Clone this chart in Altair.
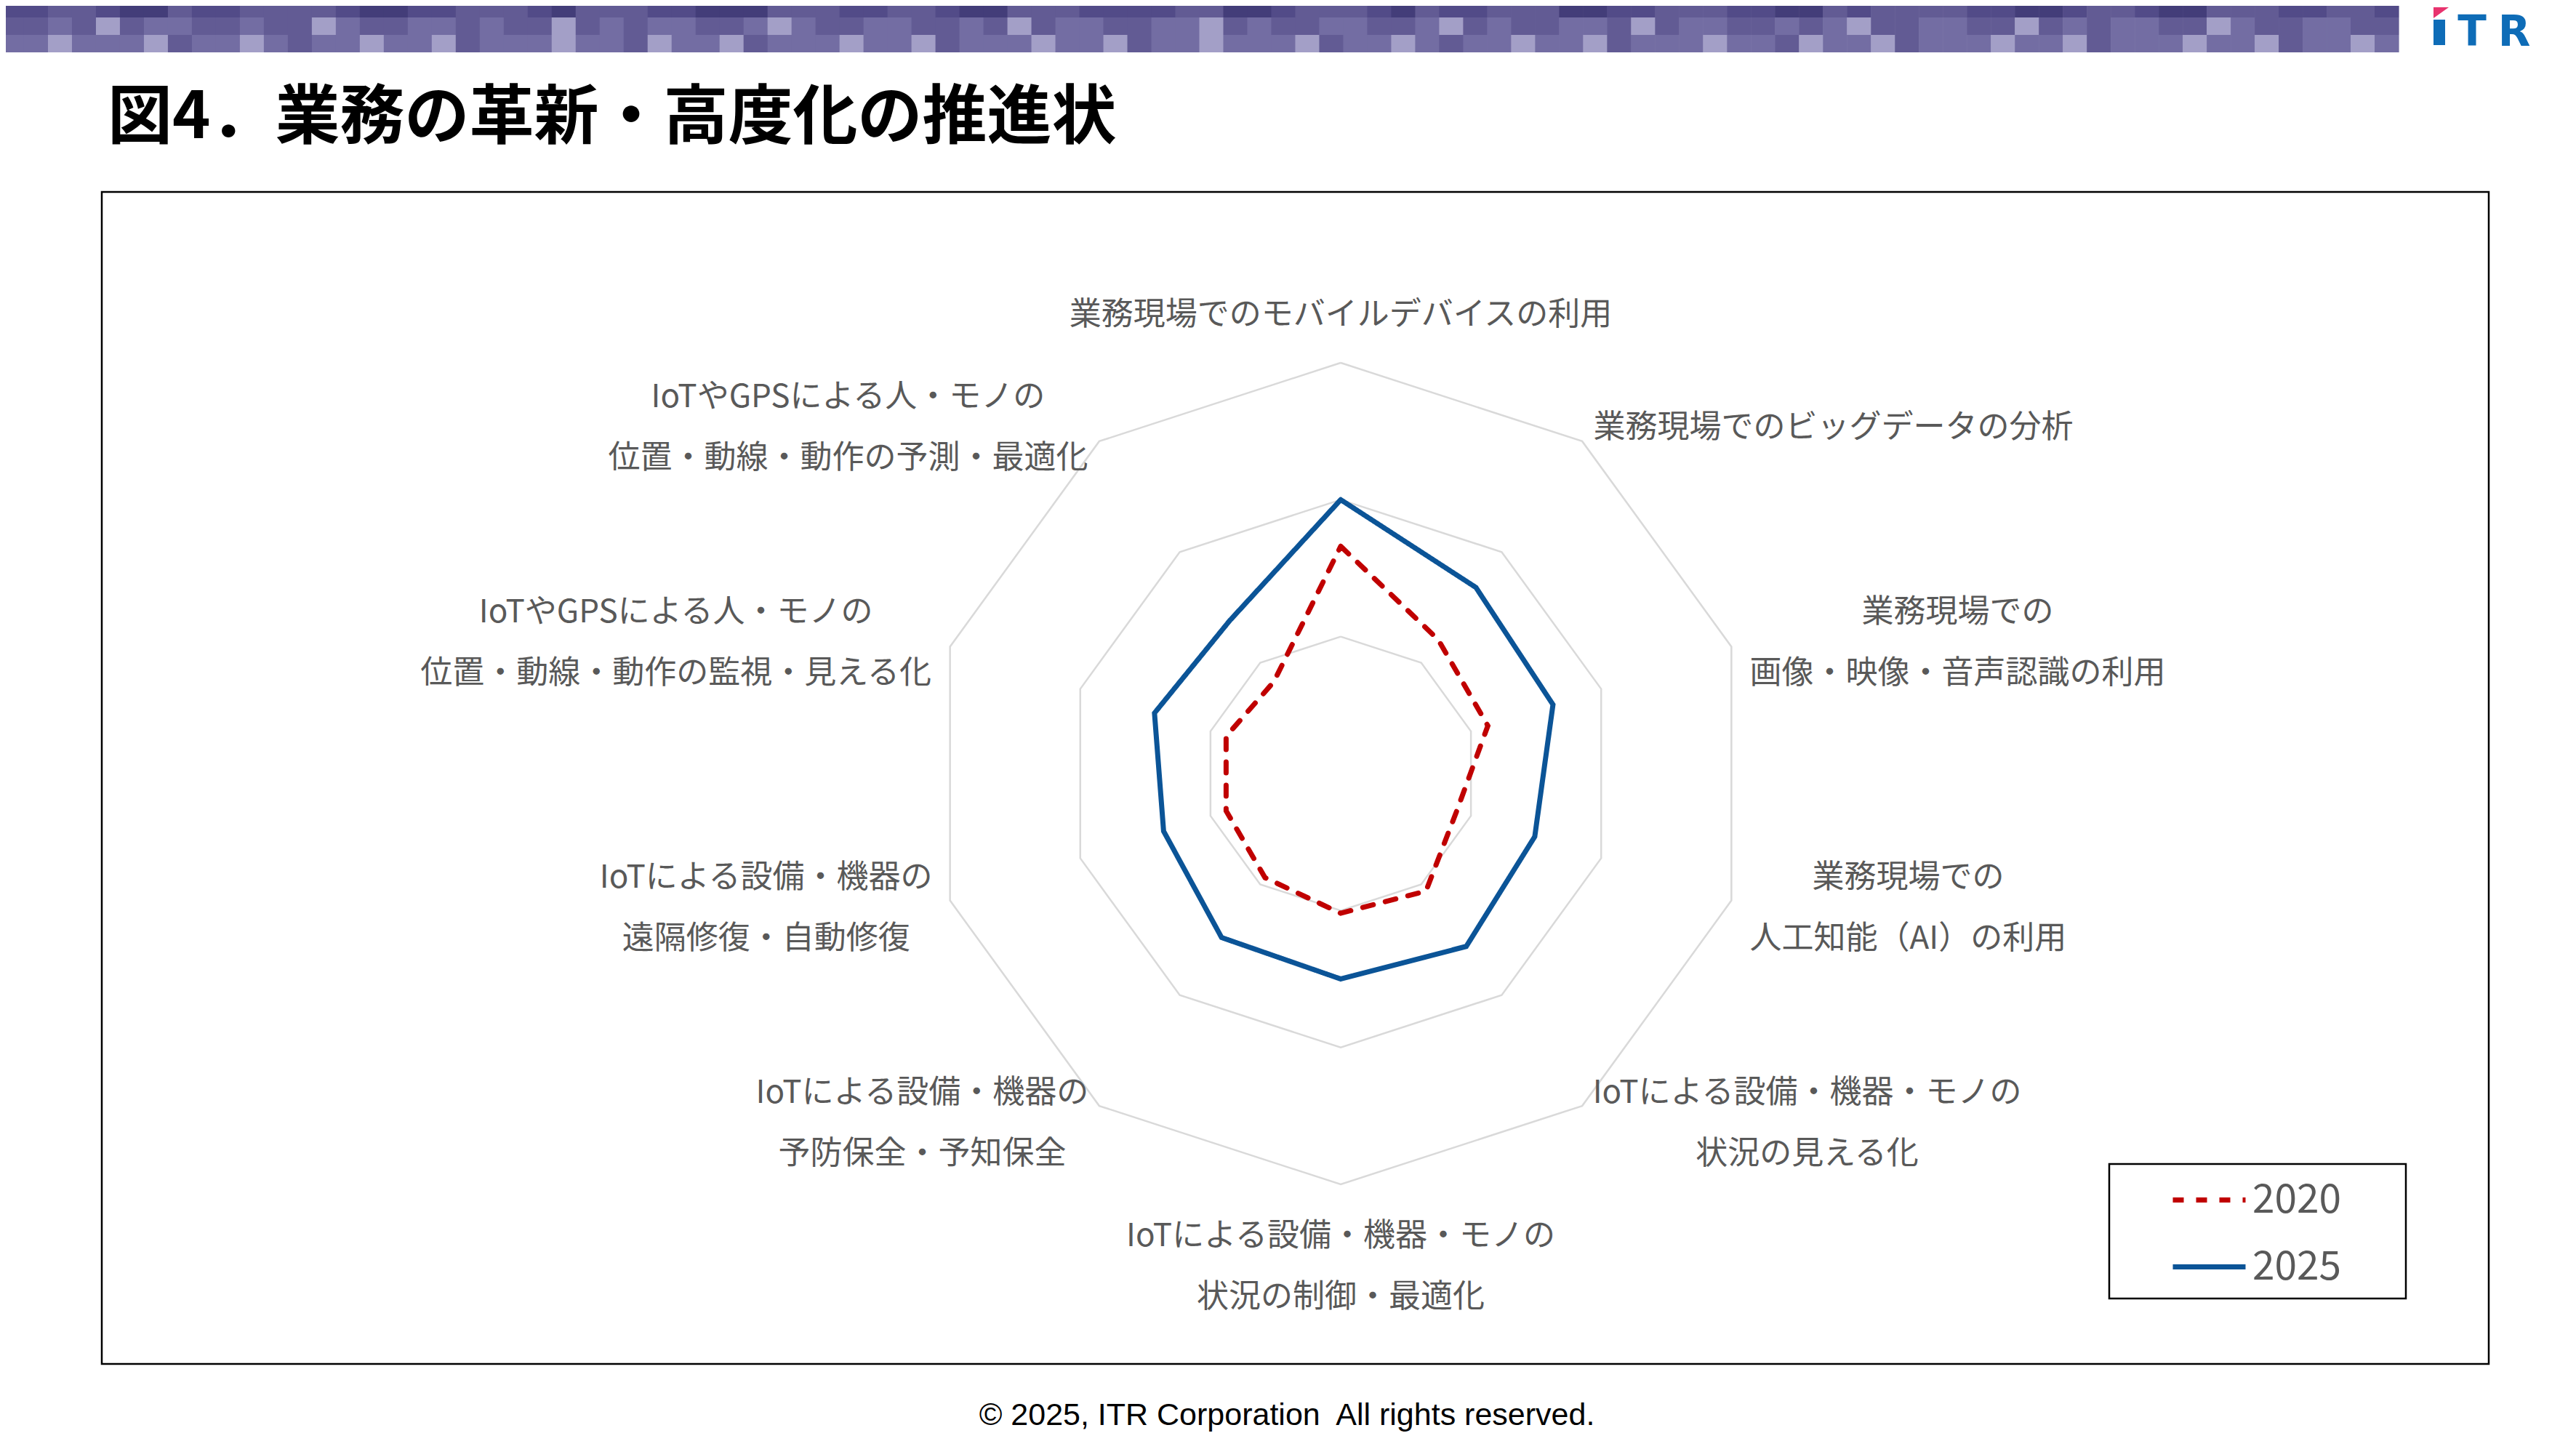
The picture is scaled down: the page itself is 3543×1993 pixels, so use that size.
import math
import altair as alt
import pandas as pd

# ---------------- data ----------------
categories = [
    "業務現場でのモバイルデバイスの利用",
    "業務現場でのビッグデータの分析",
    "業務現場での\n画像・映像・音声認識の利用",
    "業務現場での\n人工知能（AI）の利用",
    "IoTによる設備・機器・モノの\n状況の見える化",
    "IoTによる設備・機器・モノの\n状況の制御・最適化",
    "IoTによる設備・機器の\n予防保全・予知保全",
    "IoTによる設備・機器の\n遠隔修復・自動修復",
    "IoTやGPSによる人・モノの\n位置・動線・動作の監視・見える化",
    "IoTやGPSによる人・モノの\n位置・動線・動作の予測・最適化",
]
values_2020 = [1.66, 1.21, 1.13, 0.89, 1.06, 1.02, 0.94, 0.88, 0.88, 0.83]
values_2025 = [2.00, 1.68, 1.63, 1.49, 1.56, 1.50, 1.48, 1.36, 1.43, 1.38]
series_names = ["2020", "2025"]
ring_levels = [1, 2, 3]
title_text = "図4．業務の革新・高度化の推進状"
copyright_text = "© 2025, ITR Corporation\u00a0 All rights reserved."

# decorative header mosaic (shade codes per tile)
banner_rows = [
    "1122100211222210011222102221100022211221002221111220012221021122200112221100212222110012210022211221",
    "2232423322322432233232242323322343223322324233223342322332234232233242332232342233224232332243223322",
    "3343334233432334334233343324334233343342333433423343334233432334334233343324334233343342333433423343",
]
banner_colors = {"0": "#433D79", "1": "#524B88", "2": "#625B94", "3": "#736DA3", "4": "#A39FC7"}

# ---------------- layout ----------------
W, H = 3520, 1970
CX, CY = 1836, 1056          # radar centre in chart pixels
K = 565 / 3                  # pixels per value unit
N = len(categories)
XS = alt.Scale(domain=[-CX / K, (W - CX) / K], nice=False, zero=False)
YS = alt.Scale(domain=[-(H - CY) / K, CY / K], nice=False, zero=False)

RED = "#C00000"
BLUE = "#0B5497"
GRID = "#D9D9D9"
LABEL_GRAY = "#595959"
JP = "Noto Sans CJK JP"
FS = 44
LH = 84

# ---------------- radar data ----------------
rows = []
for name, vals in zip(series_names, [values_2020, values_2025]):
    for j in range(N + 1):
        rows.append({"series": name, "idx": j, "value": vals[j % N]})
series_df = pd.DataFrame(rows)

ring_df = pd.DataFrame([{"level": lv, "idx": j} for lv in ring_levels for j in range(N + 1)])

polar = dict(
    px=f"datum.value*sin(2*PI*datum.idx/{N})",
    py=f"datum.value*cos(2*PI*datum.idx/{N})",
)

rings = alt.Chart(ring_df).transform_calculate(
    value="datum.level", **polar
).mark_line(color=GRID, strokeWidth=2.5, strokeJoin="miter").encode(
    x=alt.X("px:Q", scale=XS, axis=None),
    y=alt.Y("py:Q", scale=YS, axis=None),
    detail="level:N",
    order="idx:Q",
)

leg = alt.Legend(
    orient="none", legendX=2977, legendY=1589, title=None,
    symbolType="stroke", symbolStrokeWidth=7, symbolSize=10000,
    labelFontSize=55, labelColor=LABEL_GRAY, labelFont=JP, labelOffset=6,
    rowPadding=10, padding=0, direction="vertical",
)

lines = alt.Chart(series_df).transform_calculate(**polar).mark_line(
    strokeWidth=7, strokeCap="round", strokeJoin="miter"
).encode(
    x=alt.X("px:Q", scale=XS, axis=None),
    y=alt.Y("py:Q", scale=YS, axis=None),
    order="idx:Q",
    color=alt.Color("series:N", scale=alt.Scale(domain=series_names, range=[RED, BLUE]), legend=leg),
    strokeDash=alt.StrokeDash("series:N", scale=alt.Scale(domain=series_names, range=[[15, 17], [1, 0]]), legend=leg),
)

# ---------------- category labels ----------------
ASCII_W = {"I": 0.27, "o": 0.57, "T": 0.52, "G": 0.67, "P": 0.6, "S": 0.55, "A": 0.64}


def text_width(s, fs):
    w = 0.0
    for ch in s:
        w += ASCII_W.get(ch, 0.55) if ord(ch) < 128 else 1.0
    return w * fs


R_LABEL = 3.14
lab_rows = []
for i, lab in enumerate(categories):
    th = 2 * math.pi * i / N
    ax, ay = R_LABEL * math.sin(th), R_LABEL * math.cos(th)
    lns = lab.split("\n")
    n = len(lns)
    wmax = max(text_width(t, FS) for t in lns)
    if abs(math.sin(th)) < 0.01:
        cx = ax
        cy = ay + (n * LH / 2) / K * (1 if math.cos(th) > 0 else -1)
    else:
        cx = ax + math.copysign(wmax / 2, math.sin(th)) / K
        cy = ay
    # text is anchored at its first line: lift the block so it is centred
    cy += ((n - 1) * LH / 2) / K
    cy -= 0.08 * FS / K
    lab_rows.append({"label": lab, "lx": cx, "ly": cy})
label_df = pd.DataFrame(lab_rows)

labels = alt.Chart(label_df).mark_text(
    lineBreak="\n", align="center", baseline="middle", fontSize=FS,
    color=LABEL_GRAY, font=JP, lineHeight=LH,
).encode(
    x=alt.X("lx:Q", scale=XS, axis=None),
    y=alt.Y("ly:Q", scale=YS, axis=None),
    text="label:N",
)

# ---------------- decorations ----------------
one = pd.DataFrame({"a": [0]})

tiles = []
BANNER_W = 3299
for r, row in enumerate(banner_rows):
    tw = BANNER_W / len(row)
    for c, code in enumerate(row):
        tiles.append({
            "x0": c * tw - 8, "x1": (c + 1) * tw - 8 + 0.6,
            "y0": r * 24 - 8, "y1": (r + 1) * 24 - 8,
            "col": banner_colors[code],
        })
banner = alt.Chart(pd.DataFrame(tiles)).mark_rect().encode(
    x=alt.X("x0:Q", scale=None, axis=None), x2="x1:Q",
    y=alt.Y("y0:Q", scale=None, axis=None), y2="y1:Q",
    color=alt.Color("col:N", scale=None),
)

LOGO_BLUE = "#0E6CB7"
logo_bar = alt.Chart(one).mark_rect(color=LOGO_BLUE).encode(
    x=alt.value(3339), x2=alt.value(3355), y=alt.value(19), y2=alt.value(54)
)
logo_tip = alt.Chart(one).mark_point(
    shape="M-1,-0.714L1,-0.714L-1,0.714Z", filled=True, fill="#E8336E",
    strokeWidth=0, size=441, opacity=1,
).encode(x=alt.value(3349.5), y=alt.value(9.5))
logo_t = alt.Chart(one).mark_text(
    text="T", font="DejaVu Sans", fontWeight="bold", fontSize=58, color=LOGO_BLUE,
    align="center", baseline="alphabetic",
).encode(x=alt.value(3392), y=alt.value(55))
logo_r = alt.Chart(one).mark_text(
    text="R", font="DejaVu Sans", fontWeight="bold", fontSize=58, color=LOGO_BLUE,
    align="center", baseline="alphabetic",
).encode(x=alt.value(3450), y=alt.value(55))

title = alt.Chart(one).mark_text(
    text=title_text, font=JP, fontWeight="bold", fontSize=89, color="#000000",
    align="left", baseline="alphabetic",
).encode(x=alt.value(140), y=alt.value(182))

frame = alt.Chart(one).mark_rect(fillOpacity=0, stroke="#000000", strokeWidth=2.5).encode(
    x=alt.value(132), x2=alt.value(3415), y=alt.value(256), y2=alt.value(1868)
)
legend_box = alt.Chart(one).mark_rect(fillOpacity=0, stroke="#000000", strokeWidth=2.5).encode(
    x=alt.value(2893), x2=alt.value(3301), y=alt.value(1593), y2=alt.value(1778)
)

copyright = alt.Chart(one).mark_text(
    text=copyright_text, font="Liberation Sans", fontSize=43, color="#000000",
    align="center", baseline="middle",
).encode(x=alt.value(1762), y=alt.value(1939))

chart = alt.layer(
    banner, logo_bar, logo_tip, logo_t, logo_r, title, frame,
    rings, lines, labels, legend_box, copyright,
).properties(
    width=W, height=H, padding=0, autosize=alt.AutoSizeParams(type="none"),
    background="#FFFFFF",
).configure_view(stroke=None)

chart.save("out.html", embed_options={"renderer": "svg", "actions": False})
